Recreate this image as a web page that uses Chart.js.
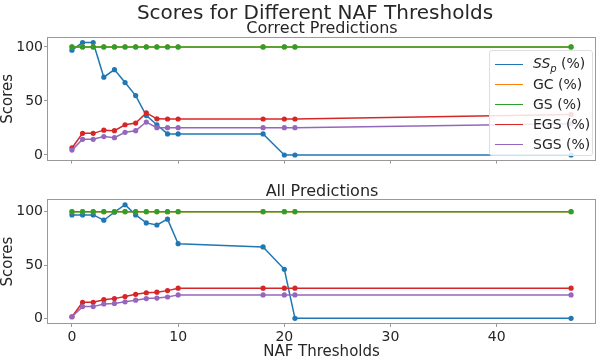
<!DOCTYPE html>
<html>
<head>
<meta charset="utf-8">
<script src="https://cdn.jsdelivr.net/npm/chart.js@4"></script>
<style>
  html, body { margin:0; padding:0; background:#fff; }
  body { width:600px; height:357px; position:relative; overflow:hidden; font-family:"DejaVu Sans", sans-serif; color:#262626; }
  .title { position:absolute; white-space:nowrap; transform:translate(-50%,-50%); line-height:1; z-index:2; }
  #sup { left:315px; top:12px; font-size:20px; }
  #t1 { left:322px; top:28px; font-size:16px; }
  #t2 { left:322px; top:191px; font-size:16px; }
  .pane { position:absolute; left:0; }
  #p1 { top:0; }
  #p2 { top:170px; }
  #legend { position:absolute; left:489px; top:50px; width:104px; height:106px; box-sizing:border-box;
            border:1px solid #ddd; border-radius:3px; background:rgba(255,255,255,0.85); font-size:14px; z-index:3; padding-top:3px; }
  #legend .row { height:20px; display:flex; align-items:center; }
  #legend .swatch { width:28px; height:0; border-top:1.5px solid; margin:0 10px 0 5px; }
  #legend sub { font-size:10px; }
</style>
</head>
<body>
<div class="title" id="sup">Scores for Different NAF Thresholds</div>
<div class="title" id="t1">Correct Predictions</div>
<div class="title" id="t2">All Predictions</div>
<div id="legend"></div>
<canvas class="pane" id="p1" width="600" height="170"></canvas>
<canvas class="pane" id="p2" width="600" height="192"></canvas>
<script>
  // NAF thresholds (x values)
  const thresholds = [0, 1, 2, 3, 4, 5, 6, 7, 8, 9, 10, 18, 20, 21, 47];
  const labels = ['SS_p (%)', 'GC (%)', 'GS (%)', 'EGS (%)', 'SGS (%)'];
  const colors = ['#1f77b4', '#ff7f0e', '#2ca02c', '#d62728', '#9467bd'];

  // Correct predictions
  const correctSSp = [97, 104, 104, 72, 79, 67, 55, 36.5, 28, 19.5, 19.5, 19.5, 0, 0, 0];
  const correctGC  = [100, 100, 100, 100, 100, 100, 100, 100, 100, 100, 100, 100, 100, 100, 100];
  const correctGS  = [100, 100, 100, 100, 100, 100, 100, 100, 100, 100, 100, 100, 100, 100, 100];
  const correctEGS = [6.5, 20, 20, 23, 22.5, 28, 29.5, 39, 33.5, 33.3, 33.3, 33.3, 33.3, 33.3, 37.5];
  const correctSGS = [4.5, 14.5, 14.5, 17, 16, 21, 22.5, 30.5, 25.3, 25.3, 25.3, 25.3, 25.3, 25.3, 29];

  // All predictions
  const allSSp = [97, 97, 97, 92, 99.5, 106.5, 97, 89.5, 87.5, 93, 70, 67, 46, 0, 0];
  const allGC  = [100, 100, 100, 100, 100, 100, 100, 100, 100, 100, 100, 100, 100, 100, 100];
  const allGS  = [100, 100, 100, 100, 100, 100, 100, 100, 100, 100, 100, 100, 100, 100, 100];
  const allEGS = [1.5, 15, 15, 17.5, 18.5, 20.5, 22.5, 24, 24.5, 26, 28.3, 28.3, 28.3, 28.3, 28.3];
  const allSGS = [1.5, 11, 11, 13.5, 14, 15.5, 17, 18.5, 19, 20, 22, 22, 22, 22, 22];

  const xTicks = [0, 10, 20, 30, 40];
  const yTicks = [0, 50, 100];

  const textColor = '#262626';
  const axisColor = '#999';

  // legend (html, inside the top panel)
  const legend = document.getElementById('legend');
  labels.forEach((l, i) => {
    const txt = l.replace(/^(\w+)_(\w)/, '<i>$1<sub>$2</sub></i>');
    legend.insertAdjacentHTML('beforeend',
      `<div class="row"><span class="swatch" style="border-color:${colors[i]}"></span><span>${txt}</span></div>`);
  });

  // matplotlib-like box around the axes
  const frame = {
    id: 'frame',
    afterDatasetsDraw(chart){
      const { ctx, chartArea: a } = chart;
      ctx.save();
      ctx.strokeStyle = axisColor;
      ctx.lineWidth = 1;
      ctx.strokeRect(Math.round(a.left) + 0.5, Math.round(a.top) + 0.5, Math.round(a.width) - 1, Math.round(a.height) - 1);
      ctx.restore();
    }
  };

  function makeChart(id, series, o){
    const datasets = series.map((s, i) => ({
      label: labels[i],
      data: thresholds.map((x, j) => ({ x, y: s[j] })),
      borderColor: colors[i],
      backgroundColor: colors[i],
      pointBackgroundColor: colors[i],
      borderWidth: 1.5,
      pointRadius: 2.6,
      pointBorderWidth: 0,
      order: series.length - i
    }));
    return new Chart(document.getElementById(id), {
      type: 'line',
      data: { datasets },
      plugins: [frame],
      options: {
        responsive: false,
        animation: false,
        devicePixelRatio: 1,
        layout: { padding: { top: o.padTop, right: 2, left: 0, bottom: 0 } },
        plugins: { legend: { display: false }, tooltip: { enabled: false } },
        scales: {
          x: {
            type: 'linear', min: -2.35, max: 49.35,
            afterBuildTicks: s => { s.ticks = xTicks.map(v => ({ value: v })); },
            afterFit: s => { s.height = o.xHeight; },
            grid: { drawOnChartArea: false, tickLength: 3, color: axisColor },
            border: { display: false },
            ticks: { display: o.xLabels, color: textColor, padding: 2, font: { family: 'DejaVu Sans', size: 14 } },
            title: { display: o.xLabels, text: 'NAF Thresholds', color: textColor, padding: 1,
                     font: { family: 'DejaVu Sans', size: 15, lineHeight: 1.2 } }
          },
          y: {
            min: o.yMin, max: o.yMax,
            afterBuildTicks: s => { s.ticks = yTicks.map(v => ({ value: v })); },
            afterFit: s => { s.width = 47; },
            grid: { drawOnChartArea: false, tickLength: 3, color: axisColor },
            border: { display: false },
            ticks: { color: textColor, padding: 1, font: { family: 'DejaVu Sans', size: 14 } },
            title: { display: true, text: 'Scores', color: textColor, padding: 0,
                     font: { family: 'DejaVu Sans', size: 15, lineHeight: 1.1 } }
          }
        }
      }
    });
  }

  makeChart('p1', [correctSSp, correctGC, correctGS, correctEGS, correctSGS],
            { padTop: 37, xHeight: 8, xLabels: false, yMin: -5.2, yMax: 109.2 });
  makeChart('p2', [allSSp, allGC, allGS, allEGS, allSGS],
            { padTop: 29, xHeight: 38, xLabels: true, yMin: -5.3, yMax: 111.9 });
</script>
</body>
</html>
